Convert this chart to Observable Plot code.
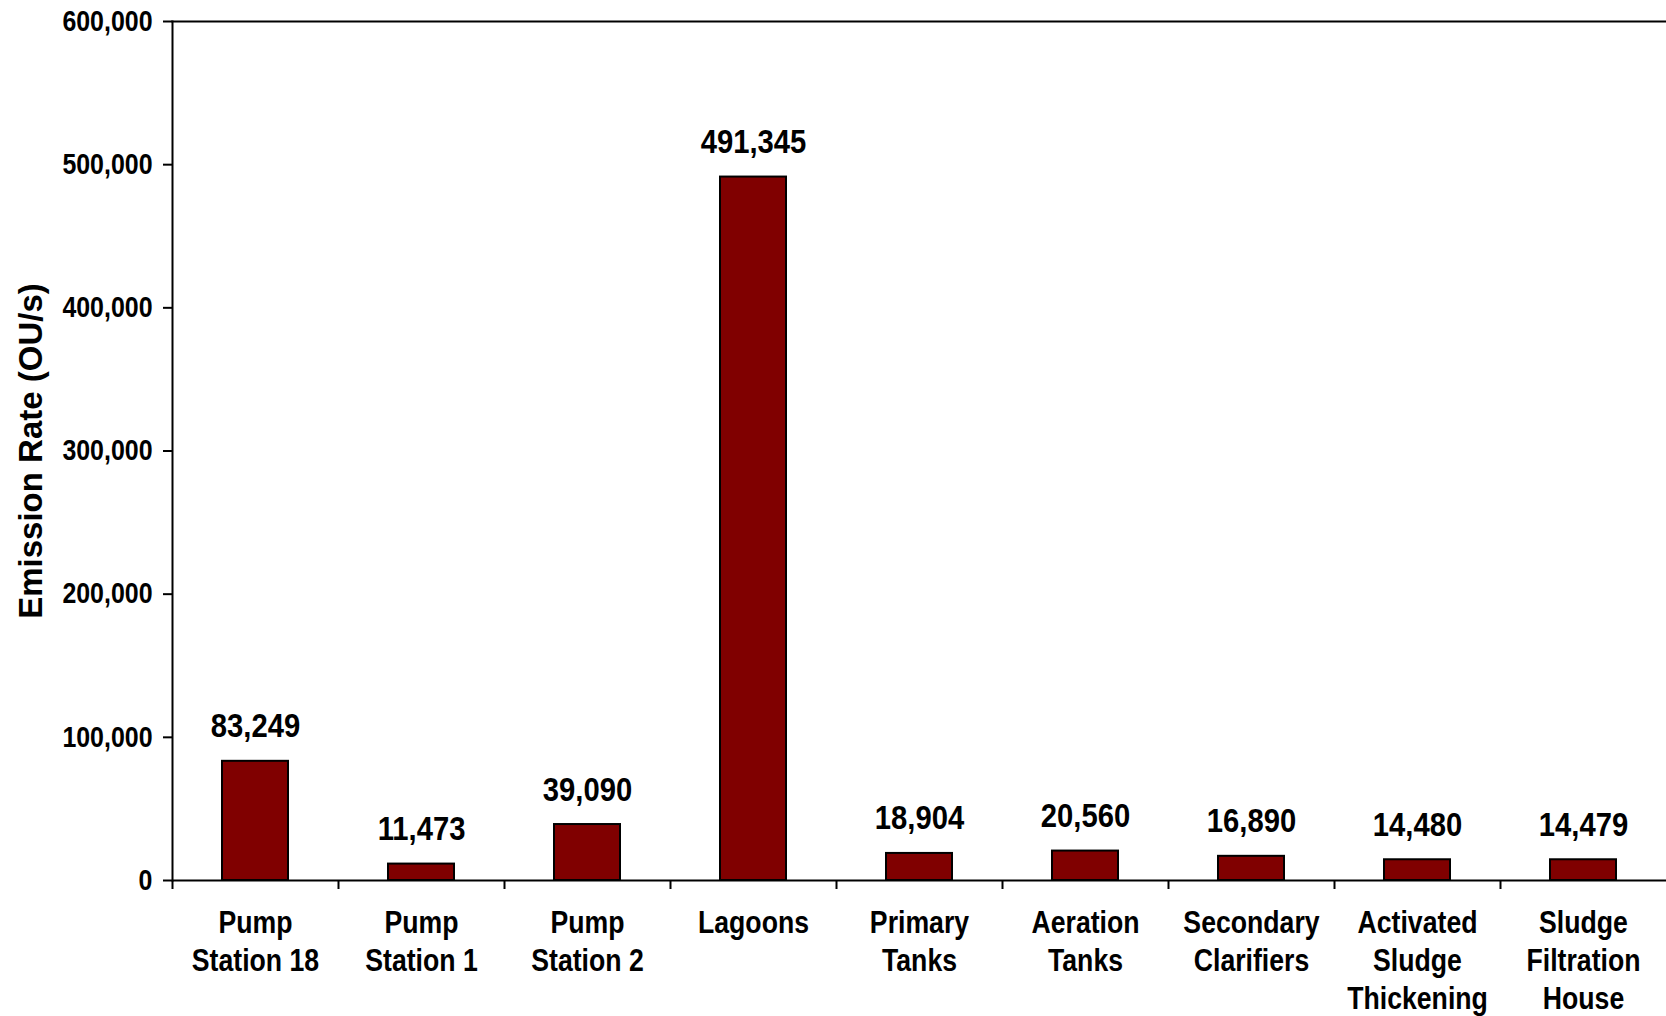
<!DOCTYPE html>
<html><head><meta charset="utf-8">
<script src="https://cdn.jsdelivr.net/npm/d3@7"></script>
<script src="https://cdn.jsdelivr.net/npm/@observablehq/plot@0.6"></script>
<style>body{margin:0;background:#fff} svg{display:block}</style>
</head><body><div id="chart"></div>
<script>
const categories = ["Pump\nStation 18","Pump\nStation 1","Pump\nStation 2","Lagoons","Primary\nTanks","Aeration\nTanks","Secondary\nClarifiers","Activated\nSludge\nThickening","Sludge\nFiltration\nHouse"];
const emissionRates = [83249,11473,39090,491345,18904,20560,16890,14480,14479];
const yTicks = [0,100000,200000,300000,400000,500000,600000];
const yLabel = "Emission Rate (OU/s)";

const data = categories.map((c,i)=>({category:c, value:emissionRates[i]}));
const W=1666,H=1016, mL=172, mR=0, mT=21, mB=136;
const step = (W-mL-mR)/categories.length;
const fmt = d3.format(",");
const font = "'Liberation Sans', Arial, sans-serif";

const plot = Plot.plot({
  width:W, height:H, marginLeft:mL, marginRight:mR, marginTop:mT, marginBottom:mB,
  style:{fontFamily:font, fontWeight:"bold", color:"black", background:"white", overflow:"visible"},
  x:{domain:categories, paddingInner:0.6, paddingOuter:0.3, align:0.5},
  y:{domain:[0,600000]},
  marks:[
    Plot.barY(data,{x:"category", y:"value", fill:"#800000", stroke:"black", strokeWidth:2}),
    Plot.text(data,{x:"category", y:"value", text:d=>fmt(d.value), lineAnchor:"bottom", dy:-24, fontSize:34, fontWeight:"bold", fill:"black"}),
    Plot.ruleY([0],{stroke:"black", strokeWidth:2}),
    Plot.ruleX(categories,{x:d=>d, y1:()=>0, y2:()=>0, dx:-step/2, insetBottom:-9, stroke:"black", strokeWidth:2}),
    Plot.frame({anchor:"top", stroke:"black", strokeWidth:2}),
    Plot.frame({anchor:"left", stroke:"black", strokeWidth:2}),
    Plot.axisY({ticks:yTicks, tickFormat:fmt, tickSize:9, tickPadding:11, fontSize:29, fontWeight:"bold", label:null, strokeWidth:2}),
    Plot.axisX({tickSize:0, tickPadding:25, fontSize:31, fontWeight:"bold", lineHeight:1.23, label:null}),
    Plot.text([yLabel],{frameAnchor:"left", textAnchor:"middle", lineAnchor:"middle", rotate:-90, dx:-141, dy:0, fontSize:33, fontWeight:"bold", fill:"black"})
  ]
});

function squeeze(nodes, k){
  nodes.forEach(el=>{
    const t = el.getAttribute("transform")||"";
    const x = el.getAttribute("x");
    let pre = t;
    if (x!=null && !isNaN(+x) && +x!==0){ el.removeAttribute("x"); pre += ` translate(${x},0)`; }
    el.setAttribute("transform", `${pre} scale(${k},1)`);
  });
}
const K = 0.86;
squeeze(plot.querySelectorAll('g[aria-label="y-axis tick label"] text'), K);
squeeze(plot.querySelectorAll('g[aria-label="x-axis tick label"] text'), K);
const textGroups = plot.querySelectorAll('g[aria-label="text"]');
if (textGroups.length) squeeze(textGroups[0].querySelectorAll('text'), K);

document.getElementById("chart").appendChild(plot);
</script>
</body></html>
